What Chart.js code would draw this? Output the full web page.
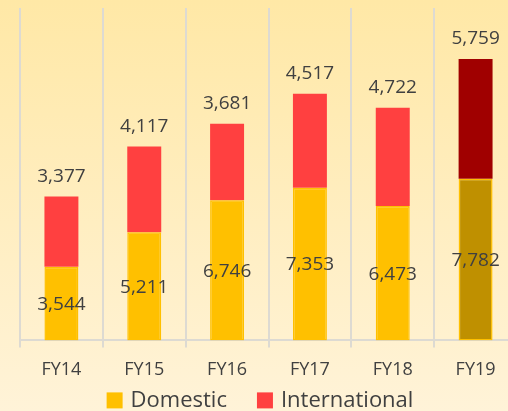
<!DOCTYPE html>
<html>
<head>
<meta charset="utf-8">
<script src="https://cdn.jsdelivr.net/npm/chart.js@4/dist/chart.umd.min.js"></script>
<style>
    html, body { margin: 0; padding: 0; overflow: hidden; }
    body {
        width: 508px;
        height: 411px;
        background: linear-gradient(#FFE8A6, #FFF3D8);
    }
    #wrap { width: 520px; height: 418px; position: relative; }
</style>
</head>
<body>
<div id="wrap"><canvas id="revenueChart"></canvas></div>
<script>
// Chart data
const years = ['FY14', 'FY15', 'FY16', 'FY17', 'FY18', 'FY19'];
const domesticValues = [3544, 5211, 6746, 7353, 6473, 7782];
const internationalValues = [3377, 4117, 3681, 4517, 4722, 5759];
const seriesNames = ['Domestic', 'International'];

// Colours (last year is highlighted with darker shades)
const domesticColor = '#FFC000';
const domesticDark = '#BF9000';
const internationalColor = '#FF4040';
const internationalDark = '#A00000';
const lastIdx = years.length - 1;

const domesticFill = years.map((y, i) => i === lastIdx ? domesticDark : domesticColor);
const internationalFill = years.map((y, i) => i === lastIdx ? internationalDark : internationalColor);

const fontFamily = '"Open Sans", sans-serif';
const textColor = '#404040';

// Value labels: domestic inside the bar, international on top of the stack
const valueLabels = {
    id: 'valueLabels',
    afterDatasetsDraw(chart) {
        const ctx = chart.ctx;
        ctx.save();
        ctx.fillStyle = textColor;
        ctx.font = '19px ' + fontFamily;
        ctx.textAlign = 'center';
        ctx.textBaseline = 'middle';
        chart.data.datasets.forEach((ds, d) => {
            const meta = chart.getDatasetMeta(d);
            meta.data.forEach((bar, i) => {
                const text = ds.data[i].toLocaleString('en-US');
                if (d === 0)
                    ctx.fillText(text, bar.x, (bar.y + bar.base) / 2 + 1);
                else
                    ctx.fillText(text, bar.x, bar.y - 20);
            });
        });
        ctx.restore();
    }
};

// Legend under the axis (built-in one can't space the items like the original)
const bottomLegend = {
    id: 'bottomLegend',
    afterDraw(chart) {
        const ctx = chart.ctx;
        const box = 16, gap = 8, spacing = 30;
        const colors = [domesticColor, internationalColor];
        ctx.save();
        ctx.font = '22px ' + fontFamily;
        ctx.textBaseline = 'middle';
        const widths = seriesNames.map(n => box + gap + ctx.measureText(n).width);
        const total = widths.reduce((a, b) => a + b, 0) + spacing * (widths.length - 1);
        let x = chart.width / 2 - total / 2;
        const y = chart.chartArea.bottom + 60;
        seriesNames.forEach((name, i) => {
            ctx.fillStyle = colors[i];
            ctx.fillRect(x, y - box / 2, box, box);
            ctx.fillStyle = textColor;
            ctx.fillText(name, x + box + gap, y);
            x += widths[i] + spacing;
        });
        ctx.restore();
    }
};

const ctx = document.getElementById('revenueChart').getContext('2d');
const revenueChart = new Chart(ctx, {
    type: 'bar',
    data: {
        labels: years,
        datasets: [{
            label: seriesNames[0],
            data: domesticValues,
            backgroundColor: domesticFill,
            borderColor: domesticColor,
            borderWidth: 1.5,
            borderSkipped: false
        }, {
            label: seriesNames[1],
            data: internationalValues,
            backgroundColor: internationalFill,
            borderWidth: 0
        }]
    },
    options: {
        responsive: true,
        maintainAspectRatio: false,
        animation: false,
        barPercentage: 0.82,
        categoryPercentage: 0.5,
        layout: {
            padding: { left: 20, right: 3, top: 8, bottom: 25 }
        },
        plugins: {
            tooltip: { enabled: false },
            legend: { display: false }
        },
        scales: {
            x: {
                stacked: true,
                grid: {
                    offset: true,
                    color: '#DDDAD2',
                    lineWidth: 2,
                    tickLength: 7
                },
                border: { color: '#DDDAD2', width: 2 },
                ticks: {
                    color: textColor,
                    font: { family: fontFamily, size: 18 },
                    padding: 12
                }
            },
            y: {
                stacked: true,
                display: false,
                min: 0,
                max: 16000
            }
        }
    },
    plugins: [valueLabels, bottomLegend]
});
</script>
</body>
</html>
